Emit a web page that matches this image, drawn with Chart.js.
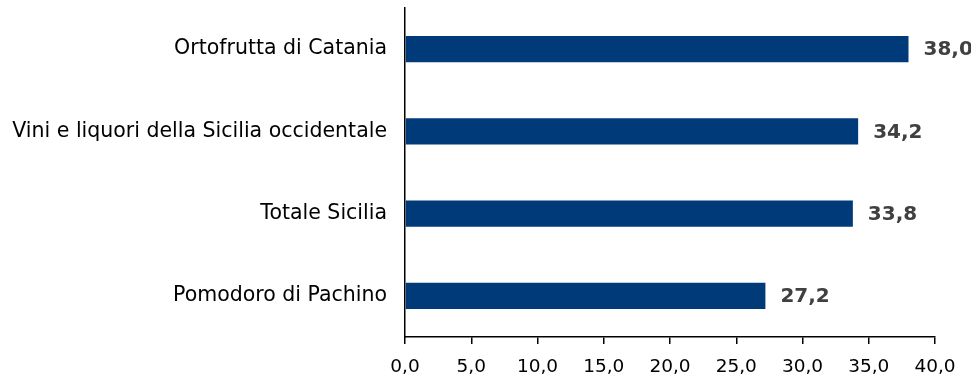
<!DOCTYPE html>
<html><head><meta charset="utf-8">
<script src="https://cdn.jsdelivr.net/npm/chart.js@4"></script>
<style>html,body{margin:0;padding:0;background:#fff}#w{width:971px;height:378px}</style>
</head><body><div id="w"><canvas id="c"></canvas></div>
<script>
const categories = ["Ortofrutta di Catania","Vini e liquori della Sicilia occidentale","Totale Sicilia","Pomodoro di Pachino"];
const values = [38.0, 34.2, 33.8, 27.2];
const xTicks = [0,5,10,15,20,25,30,35,40];
const FONT = "'DejaVu Sans', sans-serif";
const fmt = v => v.toFixed(1).replace('.', ',');

const labelPlugin = {
  id: 'vals',
  afterDatasetsDraw(chart) {
    const ctx = chart.ctx, xs = chart.scales.x;
    const meta = chart.getDatasetMeta(0);
    ctx.save();
    ctx.font = "bold 20px " + FONT;
    ctx.fillStyle = '#404040';
    ctx.textAlign = 'left'; ctx.textBaseline = 'middle';
    meta.data.forEach((bar, i) => {
      ctx.fillText(fmt(values[i]), xs.getPixelForValue(values[i]) + 15, bar.y + 1);
    });
    ctx.restore();
  }
};

new Chart(document.getElementById('c'), {
  type: 'bar',
  data: { labels: categories, datasets: [{ data: values, backgroundColor: '#003A78', barPercentage: 0.64, categoryPercentage: 0.5 }] },
  options: {
    indexAxis: 'y', responsive: true, maintainAspectRatio: false, animation: false,
    layout: { padding: { top: 8, right: 36, bottom: 0, left: 0 } },
    plugins: { legend: { display: false }, tooltip: { enabled: false } },
    scales: {
      x: {
        min: 0, max: 40,
        afterBuildTicks: s => { s.ticks = xTicks.map(v => ({ value: v })); },
        afterFit: s => { s.paddingLeft = 0; s.paddingRight = 0; s.height = 41; },
        grid: { display: true, drawOnChartArea: false, drawTicks: true, tickLength: 7, color: '#000', lineWidth: 1.5 },
        border: { display: true, color: '#000', width: 1.5 },
        ticks: { callback: v => fmt(v), color: '#000', font: { family: FONT, size: 18.5 }, padding: 12, maxRotation: 0 }
      },
      y: {
        afterFit: s => { s.width = 405; s.paddingTop = 0; s.paddingBottom = 0; },
        grid: { display: false, drawTicks: false },
        border: { display: true, color: '#000', width: 1.5 },
        ticks: { color: '#000', font: { family: FONT, size: 20.5 }, padding: 18 }
      }
    }
  },
  plugins: [labelPlugin]
});
</script></body></html>
